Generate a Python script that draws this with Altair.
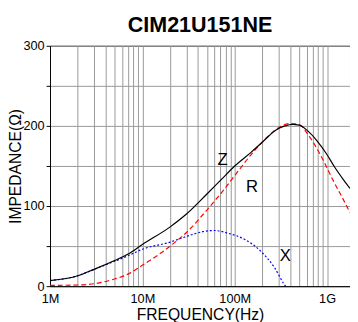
import altair as alt
import pandas as pd

# Z (impedance)
z_freq = [1e6, 2e6, 3e6, 5e6, 7e6, 10e6, 20e6, 30e6, 50e6, 70e6, 100e6, 150e6, 200e6,
          280e6, 350e6, 420e6, 500e6, 600e6, 770e6, 1e9, 1.2e9, 1.5e9, 1.77e9]
z_val = [7, 13, 21, 32, 40, 52, 74, 90, 115, 132, 150, 167, 180,
         195, 200, 202, 201, 195, 182, 164, 149, 133, 122]

# R (resistance)
r_freq = [1e6, 2e6, 3e6, 5e6, 7e6, 10e6, 20e6, 30e6, 50e6, 70e6, 100e6, 150e6, 220e6,
          310e6, 400e6, 490e6, 650e6, 900e6, 1.15e9, 1.5e9, 1.77e9]
r_val = [1, 1.5, 3, 9, 15, 26, 50, 67, 95, 115, 138, 164, 185,
         199, 203, 202, 186, 158, 133, 108, 92]

# X (reactance)
x_freq = [1e6, 2e6, 3e6, 5e6, 7e6, 10e6, 20e6, 30e6, 45e6, 60e6, 85e6, 130e6, 190e6,
          270e6, 340e6, 355e6]
x_val = [7, 13, 21, 31, 38, 46, 55, 62, 68, 69.5, 66, 58, 44,
         23, 3, 0]

label_text = ["Z", "R", "X"]
label_freq = [74e6, 154e6, 353e6]
label_val = [157, 123, 38]

x_grid = [k * 10 ** d for d in range(6, 10) for k in range(1, 10) if k * 10 ** d <= 1.77e9]
y_ticks = [0, 50, 100, 150, 200, 250, 300]

df = pd.concat([
    pd.DataFrame({"f": z_freq, "v": z_val, "s": "Z"}),
    pd.DataFrame({"f": r_freq, "v": r_val, "s": "R"}),
    pd.DataFrame({"f": x_freq, "v": x_val, "s": "X"}),
])
labels = pd.DataFrame({"t": label_text, "f": label_freq, "v": label_val})

FONT = "Liberation Sans"

xscale = alt.Scale(type="log", domain=[1e6, 1.77e9], nice=False)
yscale = alt.Scale(domain=[0, 300], nice=False)

xaxis = alt.Axis(
    values=x_grid, title="FREQUENCY(Hz)", grid=True, ticks=False,
    labelExpr="datum.value==1e6?'1M':datum.value==1e7?'10M':datum.value==1e8?'100M':datum.value==1e9?'1G':''",
    labelOverlap=False, labelFlush=False, labelPadding=7,
    titlePadding=1,
)
yaxis = alt.Axis(
    values=y_ticks, title="IMPEDANCE(Ω)", grid=True, ticks=True, tickSize=4,
    labelExpr="datum.value % 100 == 0 ? datum.label : ''",
    labelPadding=2, titleX=-30, titleBaseline="alphabetic",
)

base = alt.Chart(df)

def line(series, color, dash):
    props = dict(color=color, strokeWidth=1.2, clip=True, interpolate="monotone")
    if dash:
        props["strokeDash"] = dash
    return base.transform_filter(alt.datum.s == series).mark_line(**props).encode(
        x=alt.X("f:Q", scale=xscale, axis=xaxis),
        y=alt.Y("v:Q", scale=yscale, axis=yaxis),
        order=alt.Order("f:Q"),
    )

zl = line("Z", "black", None)
rl = line("R", "#ff0000", [5, 3])
xl = line("X", "#0000ff", [2, 2])

txt = alt.Chart(labels).mark_text(font=FONT, fontSize=17, color="black",
                                  align="center", baseline="middle").encode(
    x=alt.X("f:Q", scale=xscale), y=alt.Y("v:Q", scale=yscale), text="t:N")

chart = alt.layer(xl, rl, zl, txt).properties(
    width=307, height=246,
    background="white",
    title=alt.TitleParams("CIM21U151NE", font=FONT, fontSize=22, fontWeight="bold",
                          color="black", offset=3, anchor="middle"),
    autosize=alt.AutoSizeParams(type="none"),
    padding={"left": 43, "top": 35, "right": 0, "bottom": 33},
).configure_view(stroke="black", strokeWidth=1).configure_axis(
    labelFont=FONT, titleFont=FONT, labelFontSize=13, titleFontSize=16,
    labelColor="black", titleColor="black", titleFontWeight="normal",
    gridColor="#999999", gridWidth=1, gridOpacity=1,
    domainColor="black", tickColor="black",
)

chart.save("out.html", embed_options={"renderer": "svg", "actions": False})
